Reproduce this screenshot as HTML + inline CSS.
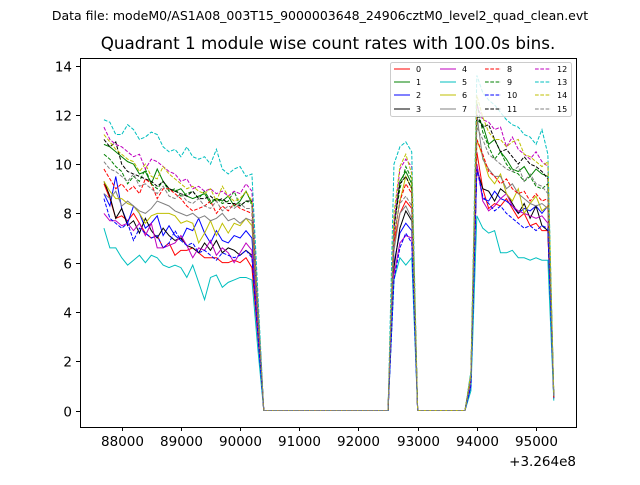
<!DOCTYPE html>
<html><head><meta charset="utf-8"><style>
body{margin:0;background:#fff;}
svg text{font-family:"DejaVu Sans","Liberation Sans",sans-serif;}
</style></head><body>
<svg id="chart" width="640" height="480" xmlns="http://www.w3.org/2000/svg">
<rect x="0" y="0" width="640" height="480" fill="#fff"/>
<text x="320" y="20" font-size="12.5" text-anchor="middle">Data file: modeM0/AS1A08_003T15_9000003648_24906cztM0_level2_quad_clean.evt</text>
<text x="328" y="49" font-size="16.75" text-anchor="middle">Quadrant 1 module wise count rates with 100.0s bins.</text>
<g id="plot"></g>
<rect x="80.5" y="58.5" width="496" height="369" fill="none" stroke="#000" stroke-width="1"/>
<g id="axes"></g>
<text x="576" y="466" font-size="13.5" text-anchor="end">+3.264e8</text>
<g id="legend"></g>
</svg>
<script>
const xTicks=[88000,89000,90000,91000,92000,93000,94000,95000];
const yTicks=[0,2,4,6,8,10,12,14];
const seriesNames=["0","1","2","3","4","5","6","7","8","9","10","11","12","13","14","15"];
const colors=["#ff0000","#008000","#0000ff","#000000","#bf00bf","#00bfbf","#bfbf00","#808080","#ff0000","#008000","#0000ff","#000000","#bf00bf","#00bfbf","#bfbf00","#808080"];
const startTime=87700, endTime=95300, binSize=100;
const seg1Start=87700, seg2Start=92600, seg3Start=93900;
const seg1=[
[9.2,8.6,7.8,7.9,7.7,8.0,7.6,7.2,7.0,7.1,6.6,6.8,6.3,6.5,6.5,6.6,6.4,6.2,6.2,6.2,6.0,6.0,6.1,6.0,6.2,5.8,3.0],
[10.8,10.7,10.5,10.3,10.1,10.0,9.6,9.7,9.2,9.8,9.3,9.0,8.9,9.0,8.7,8.6,8.7,8.8,8.4,8.6,8.5,8.7,8.3,8.5,8.9,8.4,4.2],
[8.8,8.3,9.5,8.2,7.6,8.3,8.0,7.4,7.6,7.9,7.1,7.5,7.1,6.9,7.4,7.3,7.8,7.2,6.8,7.3,6.9,6.8,7.1,7.0,7.3,7.0,3.5],
[9.3,8.7,7.8,8.2,7.5,7.7,7.2,7.8,7.3,7.0,7.4,7.1,6.9,7.0,6.7,6.6,6.4,6.8,6.5,6.9,6.4,6.6,6.5,6.3,6.5,6.3,3.2],
[8.0,7.7,7.7,7.5,7.6,7.3,7.6,7.1,7.6,6.6,6.6,6.7,6.8,7.1,6.7,6.2,6.6,6.5,6.9,6.3,6.6,6.4,6.0,6.4,6.8,6.5,3.2],
[7.4,6.6,6.6,6.2,5.9,6.1,6.3,6.0,6.3,6.2,5.9,5.8,5.9,5.8,5.4,5.9,5.2,4.5,5.4,5.5,5.0,5.2,5.3,5.4,5.4,5.3,2.5],
[9.3,8.9,8.6,8.6,8.4,8.3,8.0,7.6,7.9,8.0,8.0,8.0,7.9,7.6,7.7,7.6,6.8,7.2,7.7,7.1,7.6,7.2,7.6,7.5,7.8,7.5,3.8],
[8.8,8.6,8.9,8.3,8.5,8.3,8.1,8.0,8.2,8.5,8.4,8.3,8.1,8.0,7.9,8.0,7.8,7.9,7.7,7.8,8.0,7.7,7.8,7.6,7.8,7.7,3.9],
[9.8,9.4,9.0,9.2,8.9,9.1,8.8,9.4,9.2,8.6,9.0,9.0,8.8,8.6,8.3,8.1,8.2,8.3,8.5,8.0,8.3,8.1,8.4,8.2,8.1,8.0,4.0],
[10.4,10.2,9.9,9.7,9.2,9.5,9.3,9.8,9.2,9.0,9.3,8.9,9.0,8.7,8.8,8.9,8.6,8.9,8.5,8.6,8.4,8.5,8.9,8.3,8.5,8.4,4.2],
[8.6,7.8,7.6,7.4,7.6,6.9,7.4,7.2,7.0,7.1,6.6,6.8,7.3,6.9,6.7,6.8,6.4,6.5,6.3,6.1,6.4,6.3,6.2,6.3,6.5,6.2,3.1],
[11.0,10.7,10.9,10.0,9.7,9.6,9.5,9.4,9.3,9.1,9.3,9.0,8.9,8.8,8.7,8.9,8.6,8.6,8.7,8.5,8.6,8.4,8.4,8.3,8.5,8.5,4.2],
[11.5,11.0,10.8,10.7,10.5,10.3,10.4,9.8,10.2,10.1,9.9,9.7,9.6,9.3,9.4,9.0,9.1,8.9,9.0,8.8,8.9,8.7,8.9,8.8,9.2,8.9,4.4],
[11.8,11.7,11.2,11.2,11.6,11.4,11.0,11.1,11.3,11.2,10.7,10.5,10.6,10.3,10.7,10.3,10.2,10.3,10.0,10.6,9.8,9.6,9.8,9.9,9.5,9.6,4.8],
[11.2,10.9,10.6,10.4,10.2,10.1,9.7,10.0,9.5,9.4,9.9,9.6,9.4,9.2,9.0,9.1,8.9,8.8,9.0,8.5,9.1,8.7,8.5,8.6,8.9,8.5,4.2],
[10.1,9.8,9.7,9.5,9.3,9.6,9.1,9.2,9.0,8.8,9.1,8.7,8.6,8.8,8.5,8.4,8.6,8.3,8.2,8.5,8.1,8.3,8.2,8.4,8.2,8.2,4.1]];
const seg2=[
[6.8,8.0,8.5,8.2],[7.5,9.3,9.7,9.2],[6.0,7.2,7.6,7.3],[5.8,7.4,8.1,7.7],
[5.5,6.8,7.1,7.0],[5.3,6.2,5.9,6.2],[7.0,8.5,9.5,9.0],[6.5,8.0,8.3,7.8],
[7.0,8.5,9.2,8.8],[7.5,9.0,9.9,9.4],[5.3,6.6,7.2,6.8],[7.4,9.2,9.5,9.0],
[7.6,9.8,10.2,9.9],[10.0,10.7,10.9,10.5],[8.0,9.9,10.4,9.6],[7.2,8.4,8.7,8.3]];
const seg3=[
[1.2,10.5,9.0,8.2,8.4,8.3,8.6,8.2,7.8,8.0,7.5,7.6,7.3,7.3,0.5],
[1.4,11.8,11.6,10.8,11.0,10.5,10.2,9.8,9.7,9.9,9.5,9.8,9.6,9.5,0.6],
[1.0,10.0,8.6,8.5,8.9,8.6,8.5,8.3,8.0,8.2,8.1,8.3,8.0,8.3,0.5],
[1.2,9.8,9.0,8.9,8.5,9.0,8.8,8.4,8.0,8.4,7.8,8.3,7.5,7.3,0.5],
[1.1,10.0,8.5,8.1,8.3,8.6,8.8,8.3,8.1,8.0,7.9,7.8,7.9,7.6,0.5],
[0.8,7.9,7.4,7.2,7.3,6.4,6.4,6.5,6.2,6.2,6.1,6.2,6.1,6.1,0.4],
[1.3,11.0,10.3,9.5,9.2,9.6,8.8,8.5,9.0,8.0,8.4,8.7,8.1,8.3,0.5],
[1.2,12.0,10.2,9.8,9.5,9.5,9.0,9.2,8.8,8.6,8.4,8.3,8.4,8.2,0.5],
[1.3,11.0,10.4,9.7,9.5,9.2,9.4,9.0,8.8,8.9,8.5,8.8,8.5,8.6,0.5],
[1.4,12.5,11.3,10.7,10.2,10.5,10.0,9.7,9.6,9.3,9.5,9.1,9.0,9.2,0.6],
[1.0,9.8,8.7,8.4,8.1,8.3,8.0,7.8,7.6,7.4,7.5,7.3,7.5,7.4,0.5],
[1.5,12.0,11.5,11.6,11.0,10.5,10.6,10.3,10.0,10.3,10.0,9.9,9.7,9.4,0.6],
[1.5,12.4,11.8,11.7,11.4,11.5,10.7,11.1,10.6,10.4,10.2,10.5,10.1,9.9,0.6],
[1.6,13.6,12.9,12.6,12.4,12.1,11.8,11.6,11.5,11.2,11.1,10.8,11.4,10.4,0.6],
[1.5,12.8,11.9,11.3,11.0,11.0,10.7,10.9,11.0,10.4,10.3,10.1,9.9,10.1,0.6],
[1.3,11.5,11.0,10.4,10.2,10.0,9.8,9.7,9.9,9.3,9.6,9.2,9.1,8.8,0.5]];

const NS="http://www.w3.org/2000/svg";
function xs(t){return 121.7+(t-88000)*0.05919;}
function ys(v){return 410.5-v*24.64;}
function valueAt(i,t){
  let k=Math.round((t-seg1Start)/binSize); if(k>=0&&k<seg1[i].length) return seg1[i][k];
  k=Math.round((t-seg2Start)/binSize); if(k>=0&&k<seg2[i].length) return seg2[i][k];
  k=Math.round((t-seg3Start)/binSize); if(k>=0&&k<seg3[i].length) return seg3[i][k];
  return 0;
}
const plot=document.getElementById('plot');
for(let i=0;i<16;i++){
  let pts=[];
  for(let t=startTime;t<=endTime;t+=binSize){pts.push(xs(t).toFixed(2)+","+ys(valueAt(i,t)).toFixed(2));}
  const pl=document.createElementNS(NS,'polyline');
  pl.setAttribute('points',pts.join(' '));
  pl.setAttribute('fill','none');
  pl.setAttribute('stroke',colors[i]);
  pl.setAttribute('stroke-width','1');
  if(i>=8) pl.setAttribute('stroke-dasharray','3.7,1.6');
  
  
  plot.appendChild(pl);
}
const axes=document.getElementById('axes');
xTicks.forEach(t=>{
  const x=Math.round(xs(t))+0.5;
  const l=document.createElementNS(NS,'line');
  l.setAttribute('x1',x);l.setAttribute('x2',x);l.setAttribute('y1',427);l.setAttribute('y2',431);l.setAttribute('stroke','#000');
  
  
  axes.appendChild(l);
  const tx=document.createElementNS(NS,'text');
  tx.setAttribute('x',x);tx.setAttribute('y',446);tx.setAttribute('font-size','13.5');tx.setAttribute('text-anchor','middle');
  tx.textContent=t;
  
  
  axes.appendChild(tx);
});
yTicks.forEach(v=>{
  const y=Math.round(ys(v))+0.5;
  const l=document.createElementNS(NS,'line');
  l.setAttribute('x1',76);l.setAttribute('x2',80);l.setAttribute('y1',y);l.setAttribute('y2',y);l.setAttribute('stroke','#000');
  
  
  axes.appendChild(l);
  const tx=document.createElementNS(NS,'text');
  tx.setAttribute('x',72);tx.setAttribute('y',y+5);tx.setAttribute('font-size','13.5');tx.setAttribute('text-anchor','end');
  tx.textContent=v;
  
  
  axes.appendChild(tx);
});
const lg=document.getElementById('legend');
const box=document.createElementNS(NS,'rect');
box.setAttribute('x',390.5);box.setAttribute('y',62.5);box.setAttribute('width',181);box.setAttribute('height',54);box.setAttribute('rx',2);
box.setAttribute('fill','#fff');box.setAttribute('fill-opacity','0.8');box.setAttribute('stroke','#ccc');


lg.appendChild(box);
const colX=[394,440,485,535], rowY=[69,82,95,109];
for(let i=0;i<16;i++){
  const c=Math.floor(i/4), r=i%4;
  const l=document.createElementNS(NS,'line');
  l.setAttribute('x1',colX[c]);l.setAttribute('x2',colX[c]+16);l.setAttribute('y1',rowY[r]);l.setAttribute('y2',rowY[r]);
  l.setAttribute('stroke',colors[i]);l.setAttribute('stroke-width','1');
  if(i>=8) l.setAttribute('stroke-dasharray','3.7,1.6');
  
  
  lg.appendChild(l);
  const tx=document.createElementNS(NS,'text');
  tx.setAttribute('x',colX[c]+22);tx.setAttribute('y',rowY[r]+3);tx.setAttribute('font-size','8');
  tx.textContent=seriesNames[i];
  
  
  lg.appendChild(tx);
}
</script>
</body></html>
